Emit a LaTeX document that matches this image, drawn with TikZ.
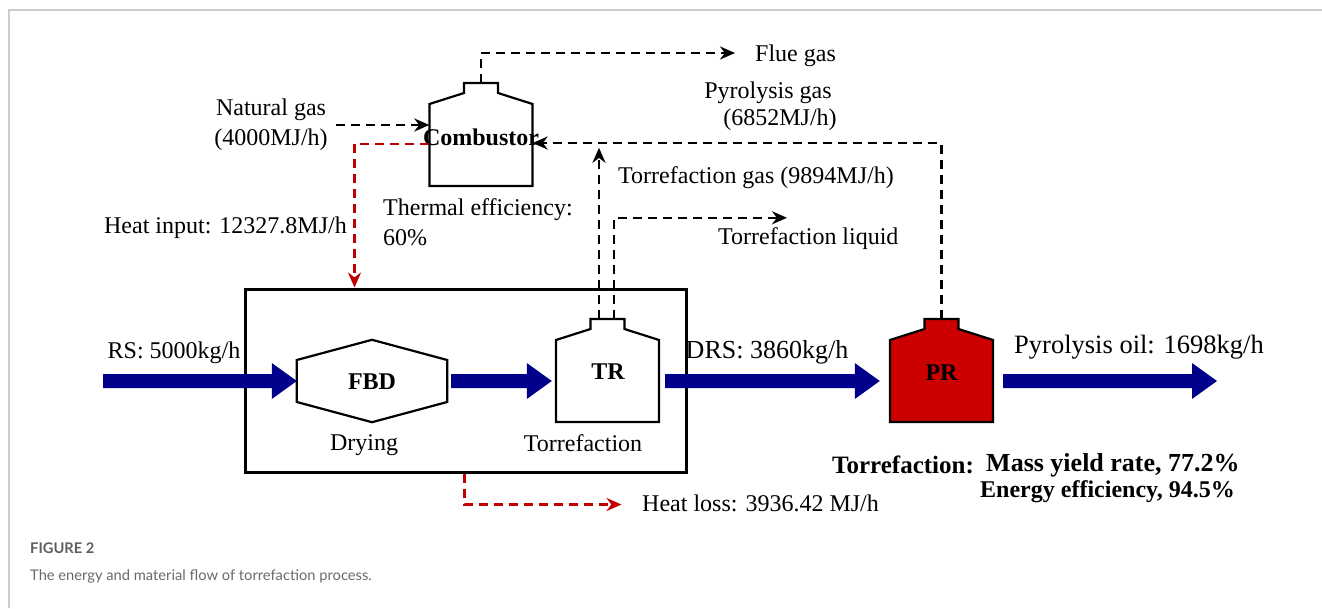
\documentclass[tikz,border=0pt]{standalone}
\usepackage{fontspec}
\setmainfont{Liberation Serif}
\newfontfamily\capfont{Lato}
\usetikzlibrary{arrows.meta,calc}
\definecolor{navy}{RGB}{0,0,139}
\definecolor{prred}{RGB}{204,0,0}
\definecolor{hred}{RGB}{192,0,0}
\definecolor{capgray}{RGB}{105,105,105}
\definecolor{capdark}{RGB}{95,95,95}
\definecolor{framegray}{RGB}{205,205,205}
\tikzset{
  lbl/.style={inner sep=0pt, font=\fontsize{24}{30}\selectfont},
  biglbl/.style={inner sep=0pt, font=\fontsize{26}{30}\selectfont},
  blbl/.style={inner sep=0pt, font=\fontsize{24}{30}\selectfont\bfseries},
  vessel/.style={draw=black, line width=2.2pt, line join=miter},
  body/.style={inner sep=0pt, minimum width=103pt, minimum height=82pt},
  gas/.style={draw=black, line width=2.6pt, dash pattern=on 9pt off 6pt, -{Stealth[length=15pt,width=13pt]}},
  heat/.style={draw=hred, line width=2.6pt, dash pattern=on 9pt off 6pt, -{Stealth[length=15pt,width=13pt]}},
  unit/.style={draw=black, line width=3pt},
  capline/.style={inner sep=0pt, anchor=west},
}
\newcommand{\vesselshape}[3]{%
  \path[#1] (#2-51.5,#3) -- (#2-51.5,#3-82) -- (#2-17,#3-93) -- (#2-17,#3-103)
    -- (#2+17,#3-103) -- (#2+17,#3-93) -- (#2+51.5,#3-82) -- (#2+51.5,#3) -- cycle;}
\newcommand{\fatarrow}[2]{%
  \fill[navy] let \p1=#1, \p2=#2 in
    (\x1,\y1-7pt) -- (\x2-25pt,\y1-7pt) -- (\x2-25pt,\y1-18pt) -- (\x2,\y1)
    -- (\x2-25pt,\y1+18pt) -- (\x2-25pt,\y1+7pt) -- (\x1,\y1+7pt) -- cycle;}
\begin{document}
\begin{tikzpicture}[x=1pt,y=-1pt]
\useasboundingbox (0,0) rectangle (1322,608);
% page frame
\draw[framegray, line width=1.5pt] (9,608) -- (9,10) -- (1322,10);

% unit box
\node[unit, minimum width=441pt, minimum height=183pt, inner sep=0pt] (box) at (465.5,380.5) {};

% vessels
\vesselshape{vessel, fill=white}{481}{186}
\node[body] (comb) at (481,145) {};
\node[blbl] (combl) at (481,137) {Combustor};

\vesselshape{vessel, fill=white}{607.5}{422}
\node[body] (tr) at (607.5,381) {};
\node[blbl] (trl) at (608,372) {TR};

\vesselshape{vessel, fill=prred}{941.5}{422}
\node[body] (pr) at (941.5,381) {};
\node[blbl] (prl) at (941.5,373) {PR};

% FBD hexagon
\node[inner sep=0pt, minimum width=150pt, minimum height=82pt] (fbd) at (372,381) {};
\draw[vessel] ($(fbd.west)+(0,-21)$) -- ($(fbd.north)$) -- ($(fbd.east)+(0,-21)$)
  -- ($(fbd.east)+(0,21)$) -- (fbd.south) -- ($(fbd.west)+(0,21)$) -- cycle;
\node[blbl] (fbdl) at (372,382) {FBD};

% labels
\node[lbl] (dry) at (364,445) {Drying};
\node[lbl] (torr) at (583,443) {Torrefaction};
\node[lbl] (rs) at (174,353) {RS: 5000kg/h};
\node[biglbl] (drs) at (767,352) {DRS: 3860kg/h};
\node[biglbl, font=\fontsize{26.5}{30}\selectfont] (oil) at (1139,347) {Pyrolysis oil: 1698kg/h};
\node[lbl] (ng1) at (271,110) {Natural gas};
\node[lbl] (ng) at (271,140) {(4000MJ/h)};
\node[lbl, anchor=west] (flue) at (755,56) {Flue gas};
\node[lbl] (pg1) at (768,93) {Pyrolysis gas};
\node[lbl] (pg2) at (780,120) {(6852MJ/h)};
\node[lbl, anchor=west] (tg) at (618,178) {Torrefaction gas (9894MJ/h)};
\node[lbl, anchor=west] (tliq) at (718,239) {Torrefaction liquid};
\node[lbl, anchor=east] (hin) at (347,228) {Heat input: 12327.8MJ/h};
\node[lbl, anchor=west, align=left] (teff) at (383,222) {Thermal efficiency:\\60\%};
\node[lbl, anchor=west] (hl) at (642,503) {Heat loss: 3936.42 MJ/h};
\node[blbl, anchor=west, font=\fontsize{25}{30}\selectfont\bfseries] (tyl) at (832,465) {Torrefaction:};
\node[blbl, anchor=west, font=\fontsize{26}{30}\selectfont\bfseries] (myr) at (986,465) {Mass yield rate, 77.2\%};
\node[blbl, anchor=west] (een) at (980,492) {Energy efficiency, 94.5\%};

% coordinates for free ends
\coordinate (rsS) at (103,381);
\coordinate (oilE) at (1217,381);
\coordinate (combtop) at ($(comb.north)+(0,-21)$);
\coordinate (trg) at ($(tr.north)+(-8.5,-21)$);
\coordinate (trq) at ($(tr.north)+(6.5,-21)$);
\coordinate (prtop) at ($(pr.north)+(0,-21)$);

% material flows
\fatarrow{(rsS)}{(fbd.west)}
\fatarrow{($(fbd.east)+(4,0)$)}{($(tr.west)+(-4,0)$)}
\fatarrow{($(tr.east)+(6,0)$)}{($(pr.west)+(-10,0)$)}
\fatarrow{($(pr.east)+(10,0)$)}{(oilE)}

% gas flows
\draw[gas] (combtop) |- ($(flue.west)+(-20,-3)$);
\draw[gas] ($(ng1.east)+(10,15)$) -- (comb.west |- {$(ng1.east)+(0,15)$});
\draw[gas] (prtop) |- ($(comb.east)+(0,-2)$);
\draw[gas] (trg) -- ++(0,-171);
\draw[gas] (trq) -- ++(0,-101) -- ++(173,0);

% heat flows
\draw[heat] ($(comb.west)+(0,-1)$) -| ($(box.north west)+(111,0)$);
\draw[heat] ($(box.south west)+(221,0)$) -- ++(0,31) -- ++(157,0);

% caption
\node[capline, text=capdark, font=\capfont\bfseries\fontsize{14.7}{18}\selectfont] (fig) at (30,548) {FIGURE 2};
\node[capline, text=capgray, font=\capfont\fontsize{14.7}{18}\selectfont] (cap) at (30,576) {The energy and material flow of torrefaction process.};
\end{tikzpicture}
\end{document}
